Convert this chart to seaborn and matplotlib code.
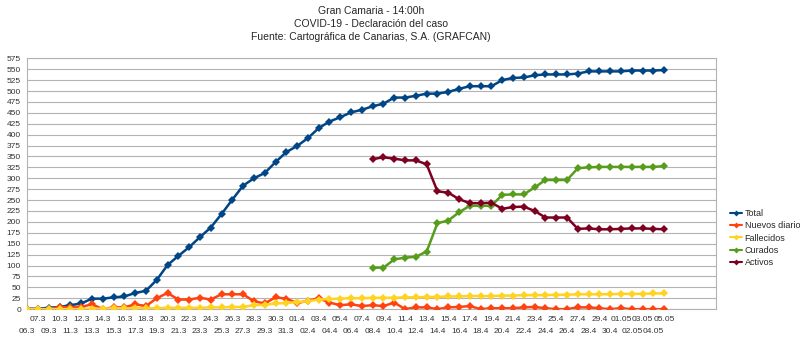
import matplotlib
matplotlib.use("Agg")
import matplotlib.pyplot as plt
from matplotlib.lines import Line2D
import numpy as np
import pandas as pd
import seaborn as sns

fechas = ['06.3', '07.3', '09.3', '10.3', '11.3', '12.3', '13.3', '14.3', '15.3', '16.3',
          '17.3', '18.3', '19.3', '20.3', '21.3', '22.3', '23.3', '24.3', '25.3', '26.3',
          '27.3', '28.3', '29.3', '30.3', '31.3', '01.4', '02.4', '03.4', '04.4', '05.4',
          '06.4', '07.4', '08.4', '09.4', '10.4', '11.4', '12.4', '13.4', '14.4', '15.4',
          '16.4', '17.4', '18.4', '19.4', '20.4', '21.4', '22.4', '23.4', '24.4', '25.4',
          '26.4', '27.4', '28.4', '29.4', '30.4', '01.05', '02.05', '03.05', '04.05', '05.05']

total = [1, 1, 3, 5, 9, 13, 24, 24, 27, 29, 37, 42, 67, 101, 122, 142, 165, 187, 218, 251,
         283, 300, 312, 337, 360, 374, 392, 415, 430, 440, 451, 457, 465, 471, 485, 485, 489, 494, 494, 498,
         505, 511, 511, 511, 525, 530, 531, 536, 538, 538, 538, 540, 545, 545, 545, 545, 547, 547, 547, 548]

nuevos = [0, 0, 0, 5, 4, 5, 11, 0, 4, 4, 11, 7, 25, 37, 22, 22, 26, 22, 34, 34,
          34, 18, 13, 27, 24, 14, 19, 25, 15, 9, 11, 7, 9, 7, 15, 0, 4, 4, 0, 4,
          5, 7, 0, 2, 2, 2, 4, 5, 2, 0, 0, 4, 4, 2, 0, 2, 0, 0, 0, 0]

fallecidos = [0, 0, 0, 0, 0, 0, 1, 1, 2, 2, 2, 2, 2, 3, 3, 3, 3, 4, 4, 5,
              5, 9, 10, 13, 14, 16, 18, 22, 23, 24, 25, 25, 26, 26, 26, 27, 27, 28, 28, 29,
              29, 30, 30, 30, 31, 31, 32, 32, 32, 33, 33, 34, 34, 34, 34, 35, 35, 35, 36, 36]

curados = [None] * 32 + [95, 95, 114, 118, 120, 132, 197, 203, 222, 237, 237, 237, 262, 263,
                         263, 279, 296, 296, 296, 323, 325, 326, 326, 326, 326, 326, 326, 328]

activos = [None] * 32 + [344, 348, 345, 341, 341, 332, 270, 267, 252, 243, 243, 244, 230, 234,
                         235, 225, 210, 210, 210, 184, 185, 183, 183, 184, 185, 185, 184, 183]

nombres = ['Total', 'Nuevos diario', 'Fallecidos', 'Curados', 'Activos']
colores = ['#004586', '#ff420e', '#ffd320', '#579d1c', '#7e0021']

sns.set_theme(style='white')
plt.rcParams['font.family'] = ['Liberation Sans', 'DejaVu Sans']

fig = plt.figure(figsize=(8, 3.45), dpi=100)
ax = fig.add_axes([0.034, 0.104, 0.861, 0.727])

idx = np.arange(len(fechas))
series = [total, nuevos, fallecidos, curados, activos]
for name, vals, col in zip(nombres, series, colores):
    df = pd.DataFrame({'x': idx, 'y': pd.array(vals, dtype='Float64')}).dropna()
    df['y'] = df['y'].astype(float)
    sns.lineplot(data=df, x='x', y='y', ax=ax, color=col, marker='D', markersize=4,
                 markeredgewidth=0, linewidth=1.8, legend=False, zorder=3)

ax.set_xlim(0, 63.8)
ax.set_ylim(0, 575)
ax.set_yticks(np.arange(0, 576, 25))
ax.set_yticklabels([str(v) for v in range(0, 576, 25)], fontsize=6, color='#333333')

# upper row: odd positions (major ticks); lower row: even positions (minor ticks)
top_pos = [i for i in range(64) if i % 2 == 1]
bot_pos = [i for i in range(64) if i % 2 == 0]
ax.set_xticks(top_pos)
ax.set_xticklabels([fechas[i] if i < len(fechas) else '' for i in top_pos], fontsize=6, color='#333333')
ax.set_xticks(bot_pos, minor=True)
ax.set_xticklabels([fechas[i] if i < len(fechas) else '' for i in bot_pos], minor=True,
                   fontsize=6, color='#333333')
ax.tick_params(axis='x', which='major', length=3, width=0.6, color='#b3b3b3', pad=2)
ax.tick_params(axis='x', which='minor', length=3, width=0.6, color='#b3b3b3', pad=10.5)
ax.tick_params(axis='y', length=3, width=0.6, color='#b3b3b3', pad=1.5)
ax.set_xlabel('')
ax.set_ylabel('')
ax.grid(axis='y', color='#b3b3b3', linewidth=0.8)
ax.grid(axis='x', which='both', visible=False)
for s in ax.spines.values():
    s.set_color('#b3b3b3')
    s.set_linewidth(0.8)

handles = [Line2D([0], [0], color=c, marker='D', markersize=3, markeredgewidth=0, linewidth=1.5)
           for c in colores]
fig.legend(handles, nombres, loc='center left', bbox_to_anchor=(0.907, 0.31), frameon=False,
           fontsize=6.5, handlelength=1.3, handletextpad=0.3, labelspacing=0.35, borderpad=0)

fig.text(0.464, 1 - 11 / 345, 'Gran Camaria - 14:00h', ha='center', va='center', fontsize=7.5)
fig.text(0.464, 1 - 24 / 345, 'COVID-19 - Declaración del caso', ha='center', va='center', fontsize=7.5)
fig.text(0.464, 1 - 37 / 345, 'Fuente: Cartográfica de Canarias, S.A. (GRAFCAN)', ha='center', va='center', fontsize=7.5)

fig.savefig('out.png', dpi=100)
